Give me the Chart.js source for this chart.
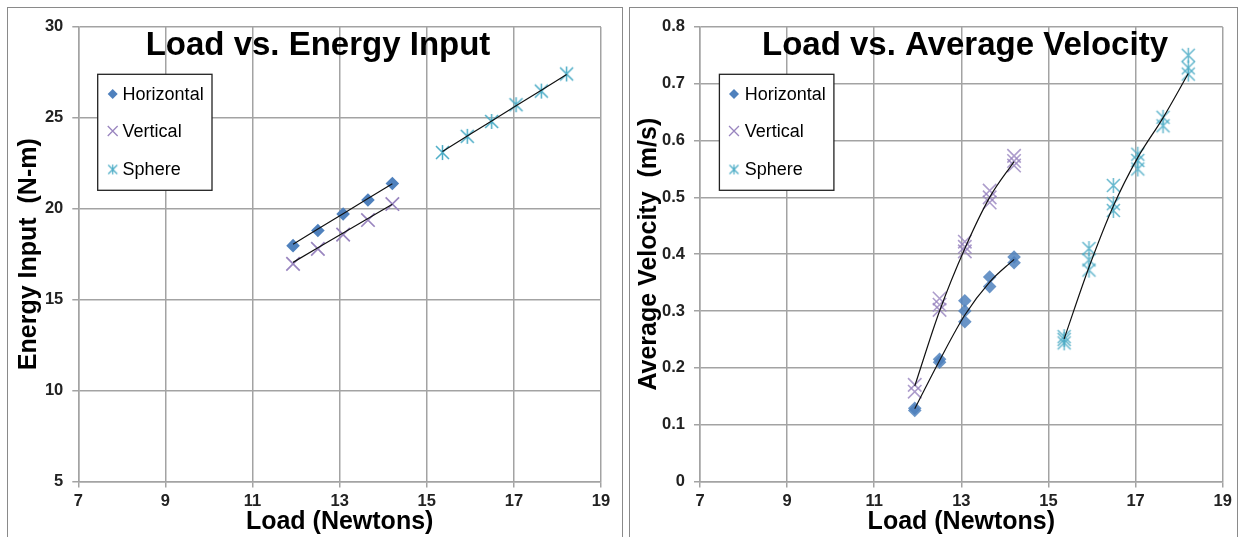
<!DOCTYPE html>
<html><head><meta charset="utf-8">
<script src="https://cdn.jsdelivr.net/npm/chart.js@4.4.1/dist/chart.umd.min.js"></script>
<style>
html,body{margin:0;padding:0;background:#fff;width:1241px;height:537px;overflow:hidden;}
.panel{position:absolute;border:1px solid #8a8a8a;background:#fff;box-sizing:border-box;}
#p1{left:7px;top:7px;width:616px;height:545px;}
#p2{left:629px;top:7px;width:609px;height:545px;}
canvas{position:absolute;left:0;top:0;}
</style></head>
<body>
<div class="panel" id="p1"><canvas id="c1" width="613" height="529"></canvas></div>
<div class="panel" id="p2"><canvas id="c2" width="606" height="529"></canvas></div>
<script>
// ---------- data ----------
const seriesNames = ['Horizontal', 'Vertical', 'Sphere'];
const loadsBox = [11.93, 12.50, 13.08, 13.65, 14.21];
const loadsSphere = [15.36, 15.93, 16.49, 17.05, 17.63, 18.21];

const energyHorizontal = [17.97, 18.80, 19.71, 20.48, 21.39];
const energyVertical   = [16.97, 17.79, 18.58, 19.38, 20.26];
const energySphere     = [23.09, 23.98, 24.80, 25.72, 26.47, 27.41];
const energyTrendHorizontal = [18.05, 18.88, 19.73, 20.56, 21.38];
const energyTrendVertical   = [17.05, 17.85, 18.66, 19.46, 20.25];
const energyTrendSphere     = [23.15, 24.00, 24.83, 25.66, 26.52, 27.38];

const velHorizontal = [[0.125,0.129],[0.210,0.215],[0.281,0.300,0.318],[0.343,0.360],[0.385,0.395]];
const velVertical   = [[0.158,0.170],[0.302,0.311,0.322],[0.405,0.413,0.422],[0.491,0.500,0.512],[0.556,0.564,0.573]];
const velSphere     = [[0.244,0.250,0.255],[0.372,0.390,0.410],[0.477,0.489,0.521],[0.550,0.565,0.576],[0.626,0.641],[0.717,0.728,0.750]];
const velTrendHorizontal = [0.128, 0.213, 0.293, 0.351, 0.391];
const velTrendVertical   = [0.168, 0.300, 0.410, 0.500, 0.563];
const velTrendSphere     = [0.251, 0.377, 0.485, 0.570, 0.640, 0.718];

const loadTicks = [7, 9, 11, 13, 15, 17, 19];
const energyTicks = [5, 10, 15, 20, 25, 30];
const velocityTicks = [0, 0.1, 0.2, 0.3, 0.4, 0.5, 0.6, 0.7, 0.8];

// ---------- helpers ----------
const pts = (xs, ys) => xs.map((x, i) => ({x, y: ys[i]}));
const ptsMulti = (xs, yss) => xs.flatMap((x, i) => yss[i].map(y => ({x, y})));

function makeAsterisk(color, hw, hh, lw) {
  const c = document.createElement('canvas');
  c.width = Math.ceil(hw * 2 + 4); c.height = Math.ceil(hh * 2 + 4);
  const g = c.getContext('2d');
  const cx = c.width / 2, cy = c.height / 2;
  g.strokeStyle = color; g.lineWidth = lw; g.lineCap = 'butt';
  g.beginPath();
  g.moveTo(cx - hw, cy - hw); g.lineTo(cx + hw, cy + hw);
  g.moveTo(cx + hw, cy - hw); g.lineTo(cx - hw, cy + hw);
  g.moveTo(cx, cy - hh); g.lineTo(cx, cy + hh);
  g.stroke();
  return c;
}
const colH = '#4f81bd', colV = '#9985bf', colS = '#4bacc6';
const starBig = makeAsterisk(colS, 6.5, 7.5, 1.5);
const starBigA = makeAsterisk('rgba(75,172,198,0.85)', 6.5, 7.5, 1.5);
const starSmall = makeAsterisk(colS, 4.5, 5, 1.2);

const FONT = '"Liberation Sans", Arial, sans-serif';

const overlay = {
  id: 'overlay',
  afterDraw(chart, args, o) {
    const c = chart.ctx;
    c.save();
    c.font = 'bold 33px ' + FONT;
    c.fillStyle = '#000'; c.textAlign = 'center'; c.textBaseline = 'alphabetic';
    c.fillText(o.title, o.titleX, o.titleY);
    const b = o.box;
    c.fillStyle = '#fff';
    c.fillRect(b.x, b.y, b.w, b.h);
    c.strokeStyle = '#222'; c.lineWidth = 1.3;
    c.strokeRect(b.x, b.y, b.w, b.h);
    c.font = '18px ' + FONT; c.textAlign = 'left'; c.textBaseline = 'middle'; c.fillStyle = '#000';
    const legendStyles = [
      {pointStyle: 'rectRot', radius: 5, fill: colH, stroke: colH, bw: 0},
      {pointStyle: 'crossRot', radius: 7, fill: colV, stroke: colV, bw: 1.3},
      {pointStyle: starSmall, radius: 5, fill: colS, stroke: colS, bw: 1}
    ];
    seriesNames.forEach((name, i) => {
      const y = b.rows[i];
      const s = legendStyles[i];
      c.fillStyle = s.fill; c.strokeStyle = s.stroke; c.lineWidth = s.bw;
      Chart.helpers.drawPoint(c, {pointStyle: s.pointStyle, radius: s.radius, rotation: 0, borderWidth: s.bw}, b.mx, y);
      c.fillStyle = '#000';
      c.fillText(name, b.tx, y + 1);
    });
    c.restore();
  }
};

function scales(yTicks, yMin, yMax, yTitle, yW, yTitlePad) {
  const grid = {color: '#a3a3a3', lineWidth: 1.5, tickLength: 6, tickColor: '#a3a3a3'};
  const tickFont = {family: FONT, size: 16.5, weight: 'bold'};
  return {
    x: {
      type: 'linear', min: 7, max: 19,
      afterBuildTicks: s => { s.ticks = loadTicks.map(v => ({value: v})); },
      afterFit: s => { s.height = 55.5; },
      grid, border: {color: '#a3a3a3', width: 1.5},
      ticks: {font: tickFont, color: '#222', padding: 4, maxRotation: 0, autoSkip: false},
      title: {display: true, text: 'Load (Newtons)', color: '#000',
              font: {family: FONT, size: 25, weight: 'bold', lineHeight: 1.2}, padding: {top: 0, bottom: 0}}
    },
    y: {
      type: 'linear', min: yMin, max: yMax,
      afterBuildTicks: s => { s.ticks = yTicks.map(v => ({value: v})); },
      afterFit: s => { s.width = yW; },
      grid, border: {color: '#a3a3a3', width: 1.5},
      ticks: {font: tickFont, color: '#222', padding: 9, autoSkip: false,
              callback: v => String(Math.round(v * 10) / 10)},
      title: {display: true, text: yTitle, color: '#000',
              font: {family: FONT, size: 25, weight: 'bold', lineHeight: 1.2}, padding: {top: yTitlePad, bottom: 0}}
    }
  };
}

const trendStyle = {showLine: true, pointRadius: 0, borderColor: '#111', borderWidth: 1.2, fill: false, order: 0};

// ---------- chart 1 ----------
new Chart(document.getElementById('c1'), {
  type: 'scatter',
  data: {datasets: [
    {label: 'Horizontal', data: pts(loadsBox, energyHorizontal), pointStyle: 'rectRot', pointRadius: 6.8,
     backgroundColor: colH, borderColor: colH, borderWidth: 0, order: 1},
    {label: 'Vertical', data: pts(loadsBox, energyVertical), pointStyle: 'crossRot', pointRadius: 9.5,
     backgroundColor: colV, borderColor: colV, borderWidth: 1.7, order: 1},
    {label: 'Sphere', data: pts(loadsSphere, energySphere), pointStyle: starBig, pointRadius: 7,
     backgroundColor: colS, borderColor: colS, order: 1},
    Object.assign({label: 'trendH', data: pts(loadsBox, energyTrendHorizontal)}, trendStyle),
    Object.assign({label: 'trendV', data: pts(loadsBox, energyTrendVertical)}, trendStyle),
    Object.assign({label: 'trendS', data: pts(loadsSphere, energyTrendSphere)}, trendStyle)
  ]},
  options: {
    responsive: false, animation: false, events: [],
    layout: {padding: {left: 0, right: 20, top: 17.7, bottom: 0}},
    plugins: {legend: {display: false}, tooltip: {enabled: false},
      overlay: {title: 'Load vs. Energy Input', titleX: 310, titleY: 47,
        box: {x: 89.7, y: 66.3, w: 114.3, h: 116, mx: 104.7, tx: 114.6, rows: [86, 123, 161.5]}}},
    scales: scales(energyTicks, 5, 30, 'Energy Input  (N-m)', 70.3, 6)
  },
  plugins: [overlay]
});

// ---------- chart 2 ----------
new Chart(document.getElementById('c2'), {
  type: 'scatter',
  data: {datasets: [
    {label: 'Horizontal', data: ptsMulti(loadsBox, velHorizontal), pointStyle: 'rectRot', pointRadius: 6.8,
     backgroundColor: 'rgba(79,129,189,0.85)', borderColor: colH, borderWidth: 0, order: 1},
    {label: 'Vertical', data: ptsMulti(loadsBox, velVertical), pointStyle: 'crossRot', pointRadius: 9.5,
     backgroundColor: colV, borderColor: 'rgba(153,133,191,0.8)', borderWidth: 1.6, order: 1},
    {label: 'Sphere', data: ptsMulti(loadsSphere, velSphere), pointStyle: starBigA, pointRadius: 7,
     backgroundColor: colS, borderColor: colS, order: 1},
    Object.assign({label: 'trendH', data: pts(loadsBox, velTrendHorizontal), cubicInterpolationMode: 'monotone'}, trendStyle),
    Object.assign({label: 'trendV', data: pts(loadsBox, velTrendVertical), cubicInterpolationMode: 'monotone'}, trendStyle),
    Object.assign({label: 'trendS', data: pts(loadsSphere, velTrendSphere), cubicInterpolationMode: 'monotone'}, trendStyle)
  ]},
  options: {
    responsive: false, animation: false, events: [],
    layout: {padding: {left: 0, right: 13.3, top: 17.7, bottom: 0}},
    plugins: {legend: {display: false}, tooltip: {enabled: false},
      overlay: {title: 'Load vs. Average Velocity', titleX: 335, titleY: 47,
        box: {x: 89.4, y: 66.3, w: 114.5, h: 116, mx: 104, tx: 114.7, rows: [86, 123, 161.5]}}},
    scales: scales(velocityTicks, 0, 0.8, 'Average Velocity  (m/s)', 70, 4)
  },
  plugins: [overlay]
});
</script>
</body></html>
